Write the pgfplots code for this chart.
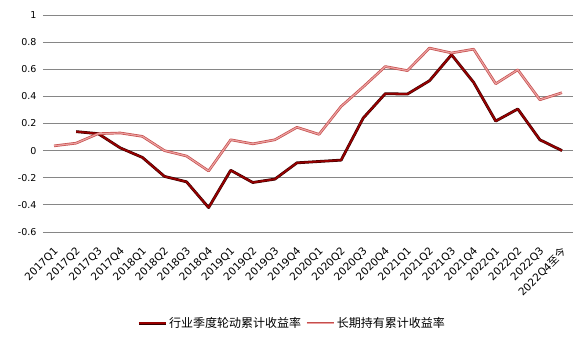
\documentclass[border=0pt]{standalone}
\usepackage{pgfplots}
\pgfplotsset{compat=1.18}
\usepackage{fontspec}
\setmainfont{DejaVu Sans}
\newfontfamily\cjk{Noto Sans CJK SC}
\definecolor{darkred}{RGB}{150,0,0}
\definecolor{darkedge}{RGB}{50,0,0}
\definecolor{lightred}{RGB}{196,78,76}
\definecolor{lightpink}{RGB}{236,160,160}
\definecolor{gridgray}{RGB}{134,134,134}
\begin{document}
\begin{tikzpicture}
\useasboundingbox (0,0) rectangle (588bp,345bp);
\begin{axis}[
  at={(43bp,113bp)}, anchor=south west,
  scale only axis, width=530bp, height=217bp,
  xmin=-0.5, xmax=23.5, ymin=-0.6, ymax=1,
  axis line style={draw=none},
  tick style={draw=none},
  ymajorgrids, major grid style={gridgray, line width=0.8pt},
  ytick={-0.6,-0.4,-0.2,0,0.2,0.4,0.6,0.8,1},
  yticklabels={-0.6,-0.4,-0.2,0,0.2,0.4,0.6,0.8,1},
  xtick={0,...,23},
  xticklabels={2017Q1,2017Q2,2017Q3,2017Q4,2018Q1,2018Q2,2018Q3,2018Q4,2019Q1,2019Q2,2019Q3,2019Q4,2020Q1,2020Q2,2020Q3,2020Q4,2021Q1,2021Q2,2021Q3,2021Q4,2022Q1,2022Q2,2022Q3,2022Q4{\cjk 至今}},
  x tick label style={xshift=-1bp, yshift=-14bp, rotate=45, anchor=north east, font=\fontsize{10.5bp}{12bp}\selectfont, inner sep=0pt},
  y tick label style={font=\fontsize{9.5bp}{11bp}\selectfont, anchor=east, xshift=-3bp},
  major tick length=0pt,
  clip=false,
  legend columns=2,
  legend style={at={(0.47,-0.42)}, anchor=center, draw=none, fill=none,
    font=\cjk\fontsize{12bp}{14bp}\selectfont, inner sep=0pt,
    /tikz/every even column/.append style={column sep=2bp}},
  legend image code/.code={\draw[#1] (0bp,0bp) -- (27bp,0bp);},
]
\addplot[darkedge, line width=0.5bp, double=darkred, double distance=1.8bp, line join=round] coordinates {
(1,0.14) (2,0.125) (3,0.02) (4,-0.05) (5,-0.19) (6,-0.23) (7,-0.42) (8,-0.145) (9,-0.235) (10,-0.21) (11,-0.09)
(12,-0.08) (13,-0.07) (14,0.24) (15,0.42) (16,0.417) (17,0.515) (18,0.707) (19,0.503) (20,0.218) (21,0.307) (22,0.08) (23,0.0)};
\addlegendentry{行业季度轮动累计收益率}
\addplot[lightred, line width=0.7bp, double=lightpink, double distance=1.2bp, line join=round] coordinates {
(0,0.035) (1,0.055) (2,0.125) (3,0.13) (4,0.105) (5,0.0) (6,-0.04) (7,-0.15) (8,0.08) (9,0.05) (10,0.08) (11,0.172)
(12,0.12) (13,0.326) (14,0.47) (15,0.62) (16,0.59) (17,0.756) (18,0.72) (19,0.748) (20,0.493) (21,0.596) (22,0.375) (23,0.427)};
\addlegendentry{长期持有累计收益率}
\end{axis}
\end{tikzpicture}
\end{document}
